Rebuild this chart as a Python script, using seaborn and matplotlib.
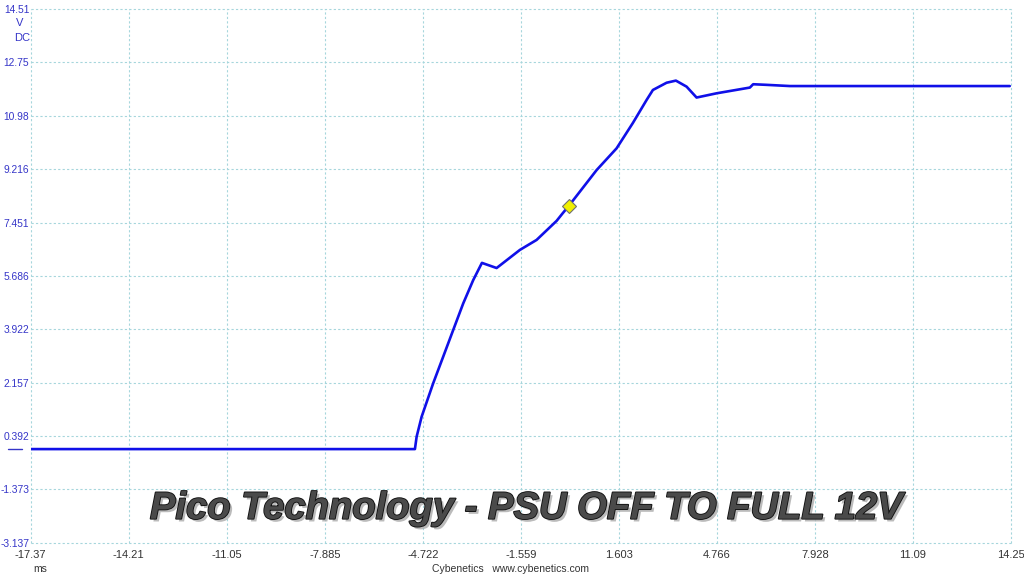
import matplotlib
matplotlib.use("Agg")
import matplotlib.pyplot as plt
import matplotlib.patheffects as pe
import matplotlib.transforms as mtransforms
import seaborn as sns
import pandas as pd

# Trace (time in ms, voltage in V)
tempo_ms = [-17.37, -4.977, -4.922, -4.761, -4.387, -4.064, -3.742, -3.419,
            -3.097, -2.816, -2.342, -1.590, -1.052, -0.407, -0.204, -0.01,
            0.883, 1.528, 2.054, 2.496, 2.699, 3.141, 3.441, 3.786, 4.108,
            4.753, 5.827, 5.933, 6.365, 7.12, 14.21]
tensao_v = [-0.04, -0.04, 0.37, 1.03, 2.14, 3.02, 3.90, 4.78,
            5.55, 6.12, 5.95, 6.55, 6.88, 7.51, 7.77, 8.01,
            9.19, 9.91, 10.75, 11.51, 11.84, 12.08, 12.15, 11.95, 11.59,
            11.73, 11.92, 12.03, 12.01, 11.97, 11.97]

# Trigger marker
trigger_t = [0.0]
trigger_v = [8.01]

x_ticks = [-17.37, -14.21, -11.05, -7.885, -4.722, -1.559, 1.603, 4.766, 7.928, 11.09, 14.25]
x_labels = ["-17.37", "-14.21", "-11.05", "-7.885", "-4.722", "-1.559", "1.603", "4.766", "7.928", "11.09", "14.25"]
y_ticks = [14.51, 12.75, 10.98, 9.216, 7.451, 5.686, 3.922, 2.157, 0.392, -1.373, -3.137]
y_labels = ["14.51", "12.75", "10.98", "9.216", "7.451", "5.686", "3.922", "2.157", "0.392", "-1.373", "-3.137"]

df = pd.DataFrame({"t": tempo_ms, "v": tensao_v})

sns.set_theme(style="white")
plt.rcParams["font.family"] = ["Liberation Sans", "DejaVu Sans"]

fig = plt.figure(figsize=(10.24, 5.76), dpi=100)
ax = fig.add_axes([0.030, 0.0578, 0.9573, 0.9261])

sns.lineplot(data=df, x="t", y="v", ax=ax, color="#1010e8", linewidth=1.9, zorder=3)
ax.plot(trigger_t, trigger_v, marker="D", markersize=7, color="#f0f000",
        markeredgecolor="#707070", markeredgewidth=0.8, linestyle="none", zorder=4)

ax.set_xlim(x_ticks[0], x_ticks[-1])
ax.set_ylim(y_ticks[-1], y_ticks[0])
ax.set_xticks(x_ticks)
ax.set_xticklabels(x_labels)
ax.set_yticks(y_ticks)
ax.set_yticklabels(y_labels)
ax.tick_params(axis="x", length=0, pad=5, labelsize=8, labelcolor="#333333")
ax.tick_params(axis="y", length=0, pad=1, labelsize=7.4, labelcolor="#3535c8")
ax.set_xlabel("")
ax.set_ylabel("")
for s in ax.spines.values():
    s.set_visible(False)
ax.grid(True, color="#a6d6dc", linestyle=(0, (2, 2)), linewidth=0.8)
for gl in ax.get_xgridlines() + ax.get_ygridlines():
    gl.set_clip_on(False)

# Channel offset marker on the left
trans = mtransforms.blended_transform_factory(ax.transAxes, ax.transData)
ax.plot([-0.023, -0.009], [tensao_v[0], tensao_v[0]], transform=trans,
        color="#3535c8", linewidth=1.0, clip_on=False)

fig.text(20 / 1024, 1 - 23 / 576, "V", color="#3535c8", fontsize=8, ha="center", va="center")
fig.text(22 / 1024, 1 - 38 / 576, "DC", color="#3535c8", fontsize=8, ha="center", va="center")
fig.text(40 / 1024, 1 - 569 / 576, "ms", color="#333333", fontsize=7.5, ha="center", va="center")
fig.text(510 / 1024, 1 - 569 / 576, "Cybenetics   www.cybenetics.com", color="#333333",
         fontsize=7.5, ha="center", va="center")

titulo = ax.text(0.506, 0.045, "Pico Technology - PSU OFF TO FULL 12V", transform=ax.transAxes,
                 ha="center", va="baseline", fontsize=27.5, fontweight="bold", fontstyle="italic",
                 color="#4a4a4a", zorder=5)
titulo.set_path_effects([pe.SimplePatchShadow(offset=(2, -2), shadow_rgbFace="#aaaaaa", alpha=0.8),
                         pe.Stroke(linewidth=1.3, foreground="#111111"), pe.Normal()])

plt.savefig("out.png", dpi=100)
plt.close()
